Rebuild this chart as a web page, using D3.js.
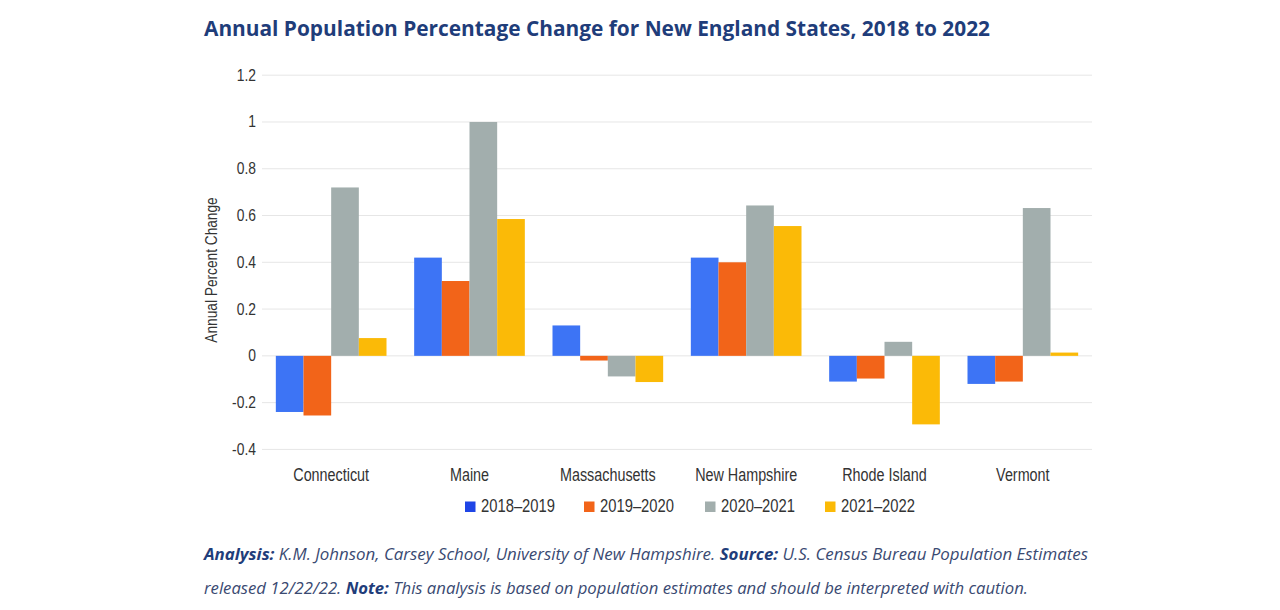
<!DOCTYPE html>
<html><head><meta charset="utf-8">
<script src="https://cdn.jsdelivr.net/npm/d3@7"></script>
<style>body{margin:0;background:#fff}</style>
</head><body>
<svg id="c" width="1280" height="610"></svg>
<script>
const categories = ["Connecticut","Maine","Massachusetts","New Hampshire","Rhode Island","Vermont"];
const seriesNames = ["2018–2019","2019–2020","2020–2021","2021–2022"];
const s2018_2019 = [-0.24, 0.42, 0.13, 0.42, -0.11, -0.12];
const s2019_2020 = [-0.255, 0.32, -0.02, 0.40, -0.097, -0.11];
const s2020_2021 = [0.72, 1.0, -0.088, 0.643, 0.06, 0.632];
const s2021_2022 = [0.076, 0.585, -0.112, 0.555, -0.293, 0.014];
const yTicks = [-0.4,-0.2,0,0.2,0.4,0.6,0.8,1,1.2];
const colors = ["#3D74F5","#F26419","#A2AEAD","#FBBA07"];
const series = [s2018_2019,s2019_2020,s2020_2021,s2021_2022];

(function(){
const svg = d3.select("#c");
const pL=262, pR=1092, pT=75.2, pB=449.4;
const SANS = "'Liberation Sans', Arial, sans-serif";
function narrow(sel, k){
  sel.each(function(){
    const w = this.getComputedTextLength();
    d3.select(this).attr("textLength", w*k).attr("lengthAdjust","spacingAndGlyphs");
  });
}
const x0 = d3.scaleBand().domain(categories).range([pL,pR]);
const y = d3.scaleLinear().domain([-0.4,1.2]).range([pB,pT]);

// title
svg.append("text").attr("x",204).attr("y",36).attr("font-family","Open Sans, sans-serif")
  .attr("font-weight",700).attr("font-size",20.5).attr("fill","#1F3D7A")
  .attr("textLength",786).attr("lengthAdjust","spacingAndGlyphs")
  .text("Annual Population Percentage Change for New England States, 2018 to 2022");

// grid
svg.append("g").selectAll("line").data(yTicks).join("line")
  .attr("x1",pL).attr("x2",pR).attr("y1",d=>y(d)).attr("y2",d=>y(d))
  .attr("stroke","#e6e6e6").attr("stroke-width",1);

// y axis labels
const yAxis = d3.axisLeft(y).tickValues(yTicks).tickSize(0).tickPadding(6).tickFormat(d=>String(d));
const ya = svg.append("g").attr("transform",`translate(${pL},0)`).call(yAxis);
ya.select(".domain").remove();
ya.selectAll("text").attr("font-family",SANS).attr("font-size",16.5).attr("fill","#333")
  .attr("dy","0.3em").call(narrow,0.84);

svg.append("text").attr("transform",`translate(217,270) rotate(-90)`)
  .attr("text-anchor","middle").attr("font-family",SANS)
  .attr("font-size",16.5).attr("fill","#333").text("Annual Percent Change").call(narrow,0.83);

// bars
const x1 = d3.scaleBand().domain(d3.range(4)).range([0, x0.bandwidth()*0.8]);
const groups = svg.append("g").selectAll("g").data(categories).join("g")
  .attr("transform",d=>`translate(${x0(d)+x0.bandwidth()*0.1},0)`);
groups.selectAll("rect").data((d,i)=>series.map((s,k)=>({k,v:s[i]}))).join("rect")
  .attr("x",d=>x1(d.k)).attr("width",x1.bandwidth())
  .attr("y",d=>y(Math.max(0,d.v))).attr("height",d=>Math.abs(y(d.v)-y(0)))
  .attr("fill",d=>colors[d.k]);

// x labels
const xAxis = d3.axisBottom(x0).tickSize(0).tickPadding(0);
const xa = svg.append("g").call(xAxis);
xa.select(".domain").remove();
xa.selectAll("text").attr("dy",null).attr("y",481).attr("font-family",SANS).attr("font-size",17.5).attr("fill","#333")
  .call(narrow,0.82);

// legend
const legX = [465,584,705,825];
const leg = svg.append("g").selectAll("g").data(seriesNames).join("g")
  .attr("transform",(d,i)=>`translate(${legX[i]},0)`);
leg.append("rect").attr("x",0).attr("y",501.5).attr("width",10.5).attr("height",10.5).attr("fill",(d,i)=>i==0?"#1F45E6":colors[i]);
leg.append("text").attr("x",16).attr("y",512.3).attr("font-family",SANS)
  .attr("font-size",17.5).attr("fill","#333").text(d=>d).call(narrow,0.845);

// footnote
const fn = svg.append("g").attr("font-family","Open Sans, sans-serif").attr("font-style","italic").attr("font-size",16.8);
const l1 = fn.append("text").attr("x",204).attr("y",559.5).attr("textLength",884).attr("lengthAdjust","spacingAndGlyphs").attr("fill","#3A4A72");
l1.append("tspan").attr("font-weight",700).attr("fill","#1F3D7A").text("Analysis:");
l1.append("tspan").text(" K.M. Johnson, Carsey School, University of New Hampshire. ");
l1.append("tspan").attr("font-weight",700).attr("fill","#1F3D7A").text("Source:");
l1.append("tspan").text(" U.S. Census Bureau Population Estimates");
const l2 = fn.append("text").attr("x",204).attr("y",593.5).attr("textLength",824).attr("lengthAdjust","spacingAndGlyphs").attr("fill","#3A4A72");
l2.append("tspan").text("released 12/22/22. ");
l2.append("tspan").attr("font-weight",700).attr("fill","#1F3D7A").text("Note:");
l2.append("tspan").text(" This analysis is based on population estimates and should be interpreted with caution.");
})();
</script>
</body></html>
